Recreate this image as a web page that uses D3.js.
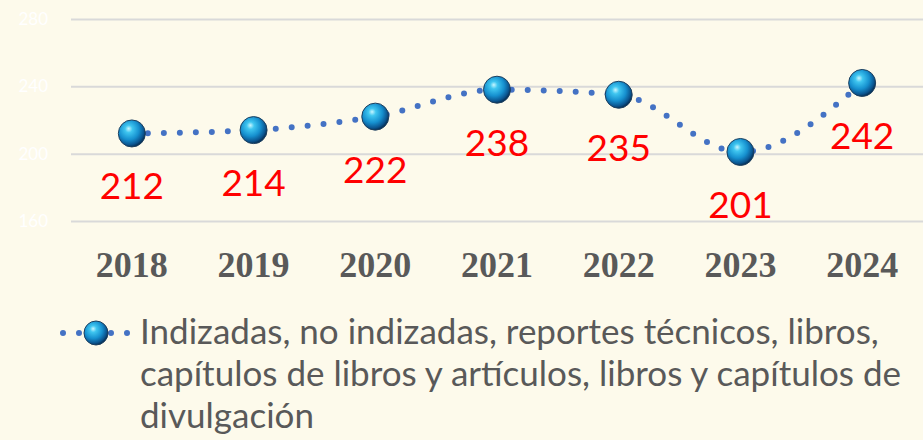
<!DOCTYPE html>
<html>
<head>
<meta charset="utf-8">
<script src="https://cdn.jsdelivr.net/npm/d3@7"></script>
<style>
  body { margin: 0; background: #fdfaeb; }
  svg { display: block; }
</style>
</head>
<body>
<div id="chart"></div>
<script>
// datos
var years = ["2018", "2019", "2020", "2021", "2022", "2023", "2024"];
var values = [212, 214, 222, 238, 235, 201, 242];
var yTicks = [160, 200, 240, 280];
var seriesName = ["Indizadas, no indizadas, reportes técnicos, libros,",
                  "capítulos de libros y artículos, libros y capítulos de",
                  "divulgación"];

var svg_w = 923;
var svg_h = 440;
var plot_left = 71, plot_right = 923, plot_top = 19, plot_bottom = 221;

var svg = d3.select("#chart").append("svg")
  .attr("width", svg_w)
  .attr("height", svg_h);

svg.append("rect").attr("width", svg_w).attr("height", svg_h).attr("fill", "#fdfaeb");

// gradiente de la esfera
var defs = svg.append("defs");
var grad = defs.append("radialGradient")
  .attr("id", "ball")
  .attr("cx", "40%").attr("cy", "38%").attr("r", "62%")
  .attr("fx", "38%").attr("fy", "32%");
grad.append("stop").attr("offset", "0%").attr("stop-color", "#c8f6ff");
grad.append("stop").attr("offset", "22%").attr("stop-color", "#3fc6f0");
grad.append("stop").attr("offset", "60%").attr("stop-color", "#1690cf");
grad.append("stop").attr("offset", "88%").attr("stop-color", "#0b5590");
grad.append("stop").attr("offset", "100%").attr("stop-color", "#06345c");

// escalas
var x = d3.scaleBand().domain(years).range([plot_left, plot_right]);
var y = d3.scaleLinear().domain([160, 280]).range([plot_bottom, plot_top]);

// rejilla
var yAxis = d3.axisLeft(y).tickValues(yTicks).tickSize(-(plot_right - plot_left)).tickPadding(23);
var gy = svg.append("g")
  .attr("transform", "translate(" + plot_left + ",0)")
  .call(yAxis);
gy.select(".domain").remove();
gy.selectAll(".tick line").attr("stroke", "#d9d9d9").attr("stroke-width", 2);
gy.selectAll(".tick text")
  .attr("fill", "#ffffff")
  .attr("font-family", "Lato, 'Open Sans', sans-serif")
  .attr("font-size", 17);

// eje x (solo etiquetas)
var xAxis = d3.axisBottom(x).tickSize(0).tickPadding(0);
var gx = svg.append("g")
  .attr("transform", "translate(0,277)")
  .call(xAxis);
gx.select(".domain").remove();
gx.selectAll(".tick text")
  .attr("dy", 0)
  .attr("fill", "#595959")
  .attr("font-family", "'Liberation Serif', 'Times New Roman', serif")
  .attr("font-weight", "bold")
  .attr("font-size", 36);

var pts = years.map(function(d, i) { return [x(d) + x.bandwidth() / 2, y(values[i])]; });

// linea punteada suavizada
var line = d3.line().curve(d3.curveMonotoneX);
svg.append("path")
  .attr("d", line(pts))
  .attr("fill", "none")
  .attr("stroke", "#4472c4")
  .attr("stroke-width", 6)
  .attr("stroke-linecap", "round")
  .attr("stroke-dasharray", "0,16");

// marcadores
svg.selectAll("circle.pt")
  .data(pts)
  .enter()
  .append("circle")
  .attr("class", "pt")
  .attr("cx", function(d) { return d[0]; })
  .attr("cy", function(d) { return d[1]; })
  .attr("r", 13.5)
  .attr("fill", "url(#ball)")
  .attr("stroke", "#1d3f5e")
  .attr("stroke-width", 1);

// etiquetas de valores
svg.selectAll("text.val")
  .data(values)
  .enter()
  .append("text")
  .attr("class", "val")
  .attr("x", function(d, i) { return x(years[i]) + x.bandwidth() / 2; })
  .attr("y", function(d) { return y(d) + 66; })
  .attr("text-anchor", "middle")
  .attr("fill", "#ff0000")
  .attr("font-family", "Lato, 'Open Sans', sans-serif")
  .attr("font-size", 37)
  .text(function(d) { return d; });

// leyenda
var leg = svg.append("g");
leg.append("line")
  .attr("x1", 63).attr("x2", 130)
  .attr("y1", 333).attr("y2", 333)
  .attr("stroke", "#4472c4")
  .attr("stroke-width", 6)
  .attr("stroke-linecap", "round")
  .attr("stroke-dasharray", "0,16");
leg.append("circle")
  .attr("cx", 96).attr("cy", 333).attr("r", 12)
  .attr("fill", "url(#ball)")
  .attr("stroke", "#1d3f5e")
  .attr("stroke-width", 1);
leg.selectAll("text")
  .data(seriesName)
  .enter()
  .append("text")
  .attr("x", 140)
  .attr("y", function(d, i) { return 344 + i * 42; })
  .attr("fill", "#595959")
  .attr("font-family", "Lato, 'Open Sans', sans-serif")
  .attr("font-size", 35)
  .text(function(d) { return d; });
</script>
</body>
</html>
